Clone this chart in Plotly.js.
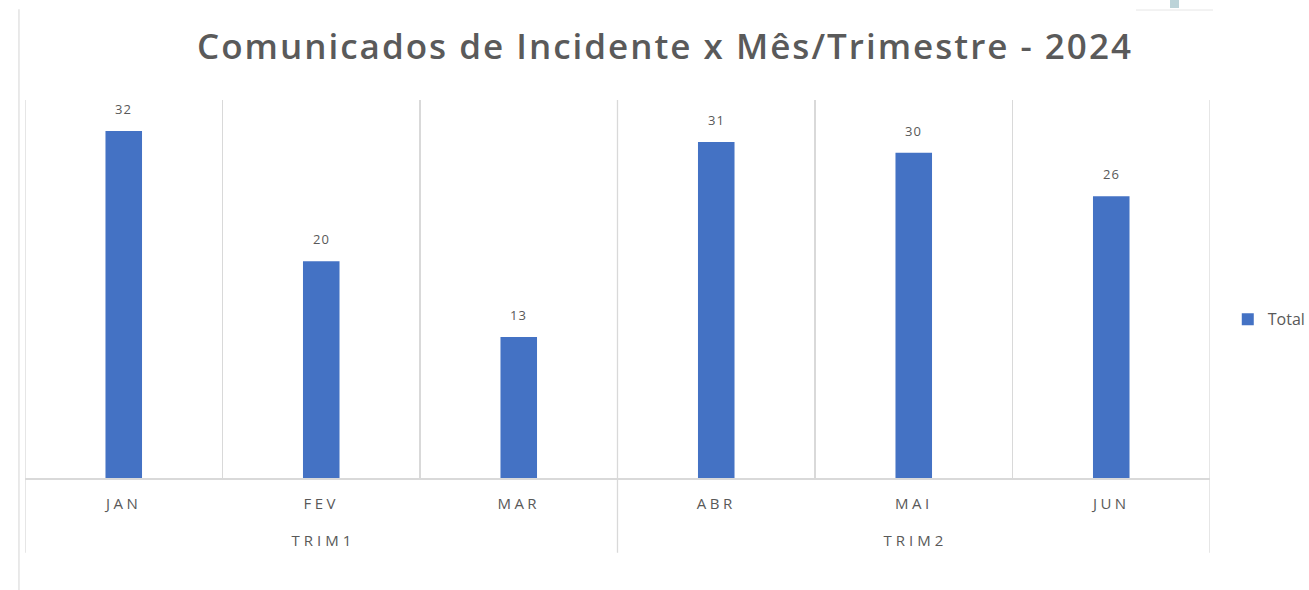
<!DOCTYPE html>
<html>
<head>
<meta charset="utf-8">
<script src="https://cdn.plot.ly/plotly-3.0.1.min.js"></script>
<style>
  html, body { margin:0; padding:0; background:#ffffff; }
  #chart { width:1309px; height:590px; }
  .xtick text { letter-spacing: 3.5px; }
  .gtitle { letter-spacing: 2px; }
  .annotation-text { letter-spacing: 1px; }
  .annotation[data-index="6"] .annotation-text,
  .annotation[data-index="7"] .annotation-text { letter-spacing: 4px; }
</style>
</head>
<body>
<div id="chart"></div>
<script>
const months = ["JAN", "FEV", "MAR", "ABR", "MAI", "JUN"];
const quarters = ["TRIM1", "TRIM1", "TRIM1", "TRIM2", "TRIM2", "TRIM2"];
const totals = [32, 20, 13, 31, 30, 26];
const seriesName = "Total";
const chartTitle = "Comunicados de Incidente x Mês/Trimestre - 2024";

const grey = "#595959";
const gridC = "#d9d9d9";
const fam = "Open Sans, DejaVu Sans, sans-serif";

// value labels
const annotations = months.map((m, i) => ({
  x: m, y: totals[i], xref: "x", yref: "y",
  text: String(totals[i]), showarrow: false,
  yanchor: "bottom", yshift: 11,
  font: {family: fam, size: 13, color: grey}
}));

// quarter group labels and separators
const groups = [];
quarters.forEach((q, i) => {
  let g = groups.find(o => o.name === q);
  if (!g) { g = {name: q, first: i, last: i}; groups.push(g); }
  g.last = i;
});
const shapes = [];
groups.forEach(g => {
  annotations.push({
    x: (g.first + g.last) / 2, xref: "x", y: -0.165, yref: "paper",
    text: g.name, showarrow: false, yanchor: "middle", xshift: 2,
    font: {family: fam, size: 15, color: grey}
  });
});
const bounds = [-0.5].concat(groups.map(g => g.last + 0.5));
bounds.forEach(b => {
  shapes.push({type: "line", xref: "x", yref: "paper", x0: b, x1: b, y0: 1, y1: -0.198,
    line: {color: gridC, width: 1.3}});
});
// outer frame fragments of the original screenshot
shapes.push({type: "line", xref: "paper", yref: "paper", x0: -0.0051, x1: -0.0051, y0: 1.24, y1: -0.3,
  line: {color: "#e3e3e3", width: 1.5}});
shapes.push({type: "line", xref: "paper", yref: "paper", x0: (1136 - 25) / 1185, x1: (1213 - 25) / 1185,
  y0: (478 - 10) / 378, y1: (478 - 10) / 378, line: {color: "#e6e6e6", width: 1}});
shapes.push({type: "rect", xref: "paper", yref: "paper", x0: (1170 - 25) / 1185, x1: (1179 - 25) / 1185,
  y0: (478 - 8) / 378, y1: (478 + 2) / 378 + 0.03, line: {width: 0}, fillcolor: "#bcd3d8"});

const data = [{
  type: "bar",
  x: months,
  y: totals,
  name: seriesName,
  showlegend: true,
  marker: {color: "#4472C4"},
  width: 0.185,
  hoverinfo: "x+y"
}];

const layout = {
  width: 1309, height: 590,
  paper_bgcolor: "#ffffff", plot_bgcolor: "#ffffff",
  margin: {l: 25, r: 99, t: 100, b: 112, autoexpand: false},
  title: {
    text: chartTitle,
    x: 665 / 1309, xref: "container", xanchor: "center",
    y: 0.92, yref: "container", yanchor: "middle",
    font: {family: fam, size: 35, color: "#5a5a5a", weight: 600}
  },
  xaxis: {
    type: "category",
    categoryorder: "array", categoryarray: months,
    range: [-0.5, 5.5],
    tickson: "boundaries",
    showgrid: true, gridcolor: gridC, gridwidth: 1.3,
    showline: true, linecolor: gridC, linewidth: 1.5,
    ticks: "", ticklabelstandoff: 11,
    tickfont: {family: fam, size: 15, color: grey},
    zeroline: false, fixedrange: true
  },
  yaxis: {
    range: [0, 34.87],
    showgrid: false, zeroline: false, showline: false,
    showticklabels: false, ticks: "", fixedrange: true
  },
  legend: {
    x: 1.015, xanchor: "left", y: 0.42, yanchor: "middle",
    font: {family: fam, size: 16, color: grey},
    bgcolor: "rgba(0,0,0,0)", itemwidth: 30
  },
  annotations: annotations,
  shapes: shapes
};

Plotly.newPlot("chart", data, layout, {displayModeBar: false, staticPlot: true});
</script>
</body>
</html>
